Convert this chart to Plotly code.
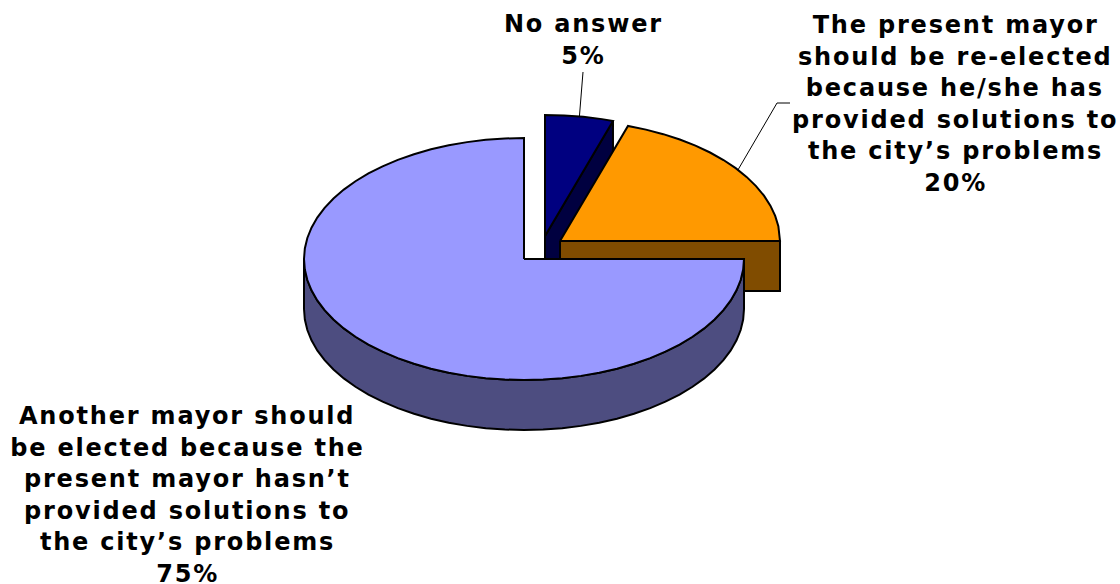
import numpy as np
import plotly.graph_objects as go

categories = ["No answer",
              "The present mayor<br>should be re-elected<br>because he/she has<br>provided solutions to<br>the city’s problems",
              "Another mayor should<br>be elected because the<br>present mayor hasn’t<br>provided solutions to<br>the city’s problems"]
values = [5, 20, 75]
top_colors = ["#000080", "#FF9900", "#9999FF"]
side_colors = ["#000040", "#804C00", "#4D4D80"]

# Layout of the projected pie, in page pixels
centres = [(545, 236), (560, 241), (524, 259)]
RX, RY, DEPTH = 220, 121, 50
label_x = [583, 955, 187]
label_top = [24, 25, 416]
LINE_H = 31.5
elbows = [[(583, 72)], [(777, 103), (790, 103)], []]
FONT = "'DejaVu Sans', sans-serif"
LW = 2

def edge(c, a):
    a = np.radians(a)
    return c[0] + RX * np.sin(a), c[1] - RY * np.cos(a)

fig = go.Figure()
def poly(xs, ys, fill):
    fig.add_trace(go.Scatter(x=list(xs), y=list(ys), mode="lines", fill="toself",
                             fillcolor=fill, line=dict(color="black", width=LW),
                             hoverinfo="skip", showlegend=False))

total = sum(values)
starts = np.cumsum([0] + values[:-1]) / total * 360
ends = np.cumsum(values) / total * 360
annos = []
for i in range(len(values)):
    c, a0, a1 = centres[i], starts[i], ends[i]
    angs = np.append(np.arange(a0, a1, 5.0), a1)
    ex, ey = edge(c, angs)
    # sides: cut face for the slice that starts in back, rim for those facing the viewer
    if i == 0:
        x1, y1 = edge(c, a1)
        poly([c[0], x1, x1, c[0], c[0]], [c[1], y1, y1 + DEPTH, c[1] + DEPTH, c[1]], side_colors[i])
    else:
        x_r, y_r = edge(c, 90)
        if i == 1:
            poly([c[0], x_r, x_r, c[0], c[0]], [c[1], y_r, y_r + DEPTH, c[1] + DEPTH, c[1]], side_colors[i])
        else:
            fr = np.append(np.arange(90, 270, 5.0), 270)
            fx, fy = edge(c, fr)
            poly(np.r_[fx, fx[::-1], fx[0]], np.r_[fy, fy[::-1] + DEPTH, fy[0]], side_colors[i])
    poly(np.r_[c[0], ex, c[0]], np.r_[c[1], ey, c[1]], top_colors[i])
    # label lines
    lines = categories[i].split("<br>") + [f"{values[i]}%"]
    for j, t in enumerate(lines):
        annos.append(dict(x=label_x[i], y=label_top[i] + j * LINE_H, text=f"<b>{t}</b>", showarrow=False,
                          xref="x", yref="y", xanchor="center", yanchor="middle",
                          font=dict(family=FONT, size=24, color="black")))
    # leader
    if elbows[i]:
        mx, my = edge(c, (a0 + a1) / 2)
        pts = [(mx, my)] + elbows[i]
        fig.add_trace(go.Scatter(x=[p[0] for p in pts], y=[p[1] for p in pts], mode="lines",
                                 line=dict(color="black", width=1), hoverinfo="skip", showlegend=False))

fig.update_layout(width=1120, height=584, margin=dict(l=0, r=0, t=0, b=0),
                  paper_bgcolor="white", plot_bgcolor="white", annotations=annos,
                  xaxis=dict(range=[0, 1120], visible=False, fixedrange=True),
                  yaxis=dict(range=[584, 0], visible=False, fixedrange=True))
fig.write_html("out.html", config=dict(displayModeBar=False),
               post_script="document.querySelectorAll('.annotation-text').forEach(function(t){t.style.letterSpacing='1.8px';});"
                           "document.body.style.margin='0';")
